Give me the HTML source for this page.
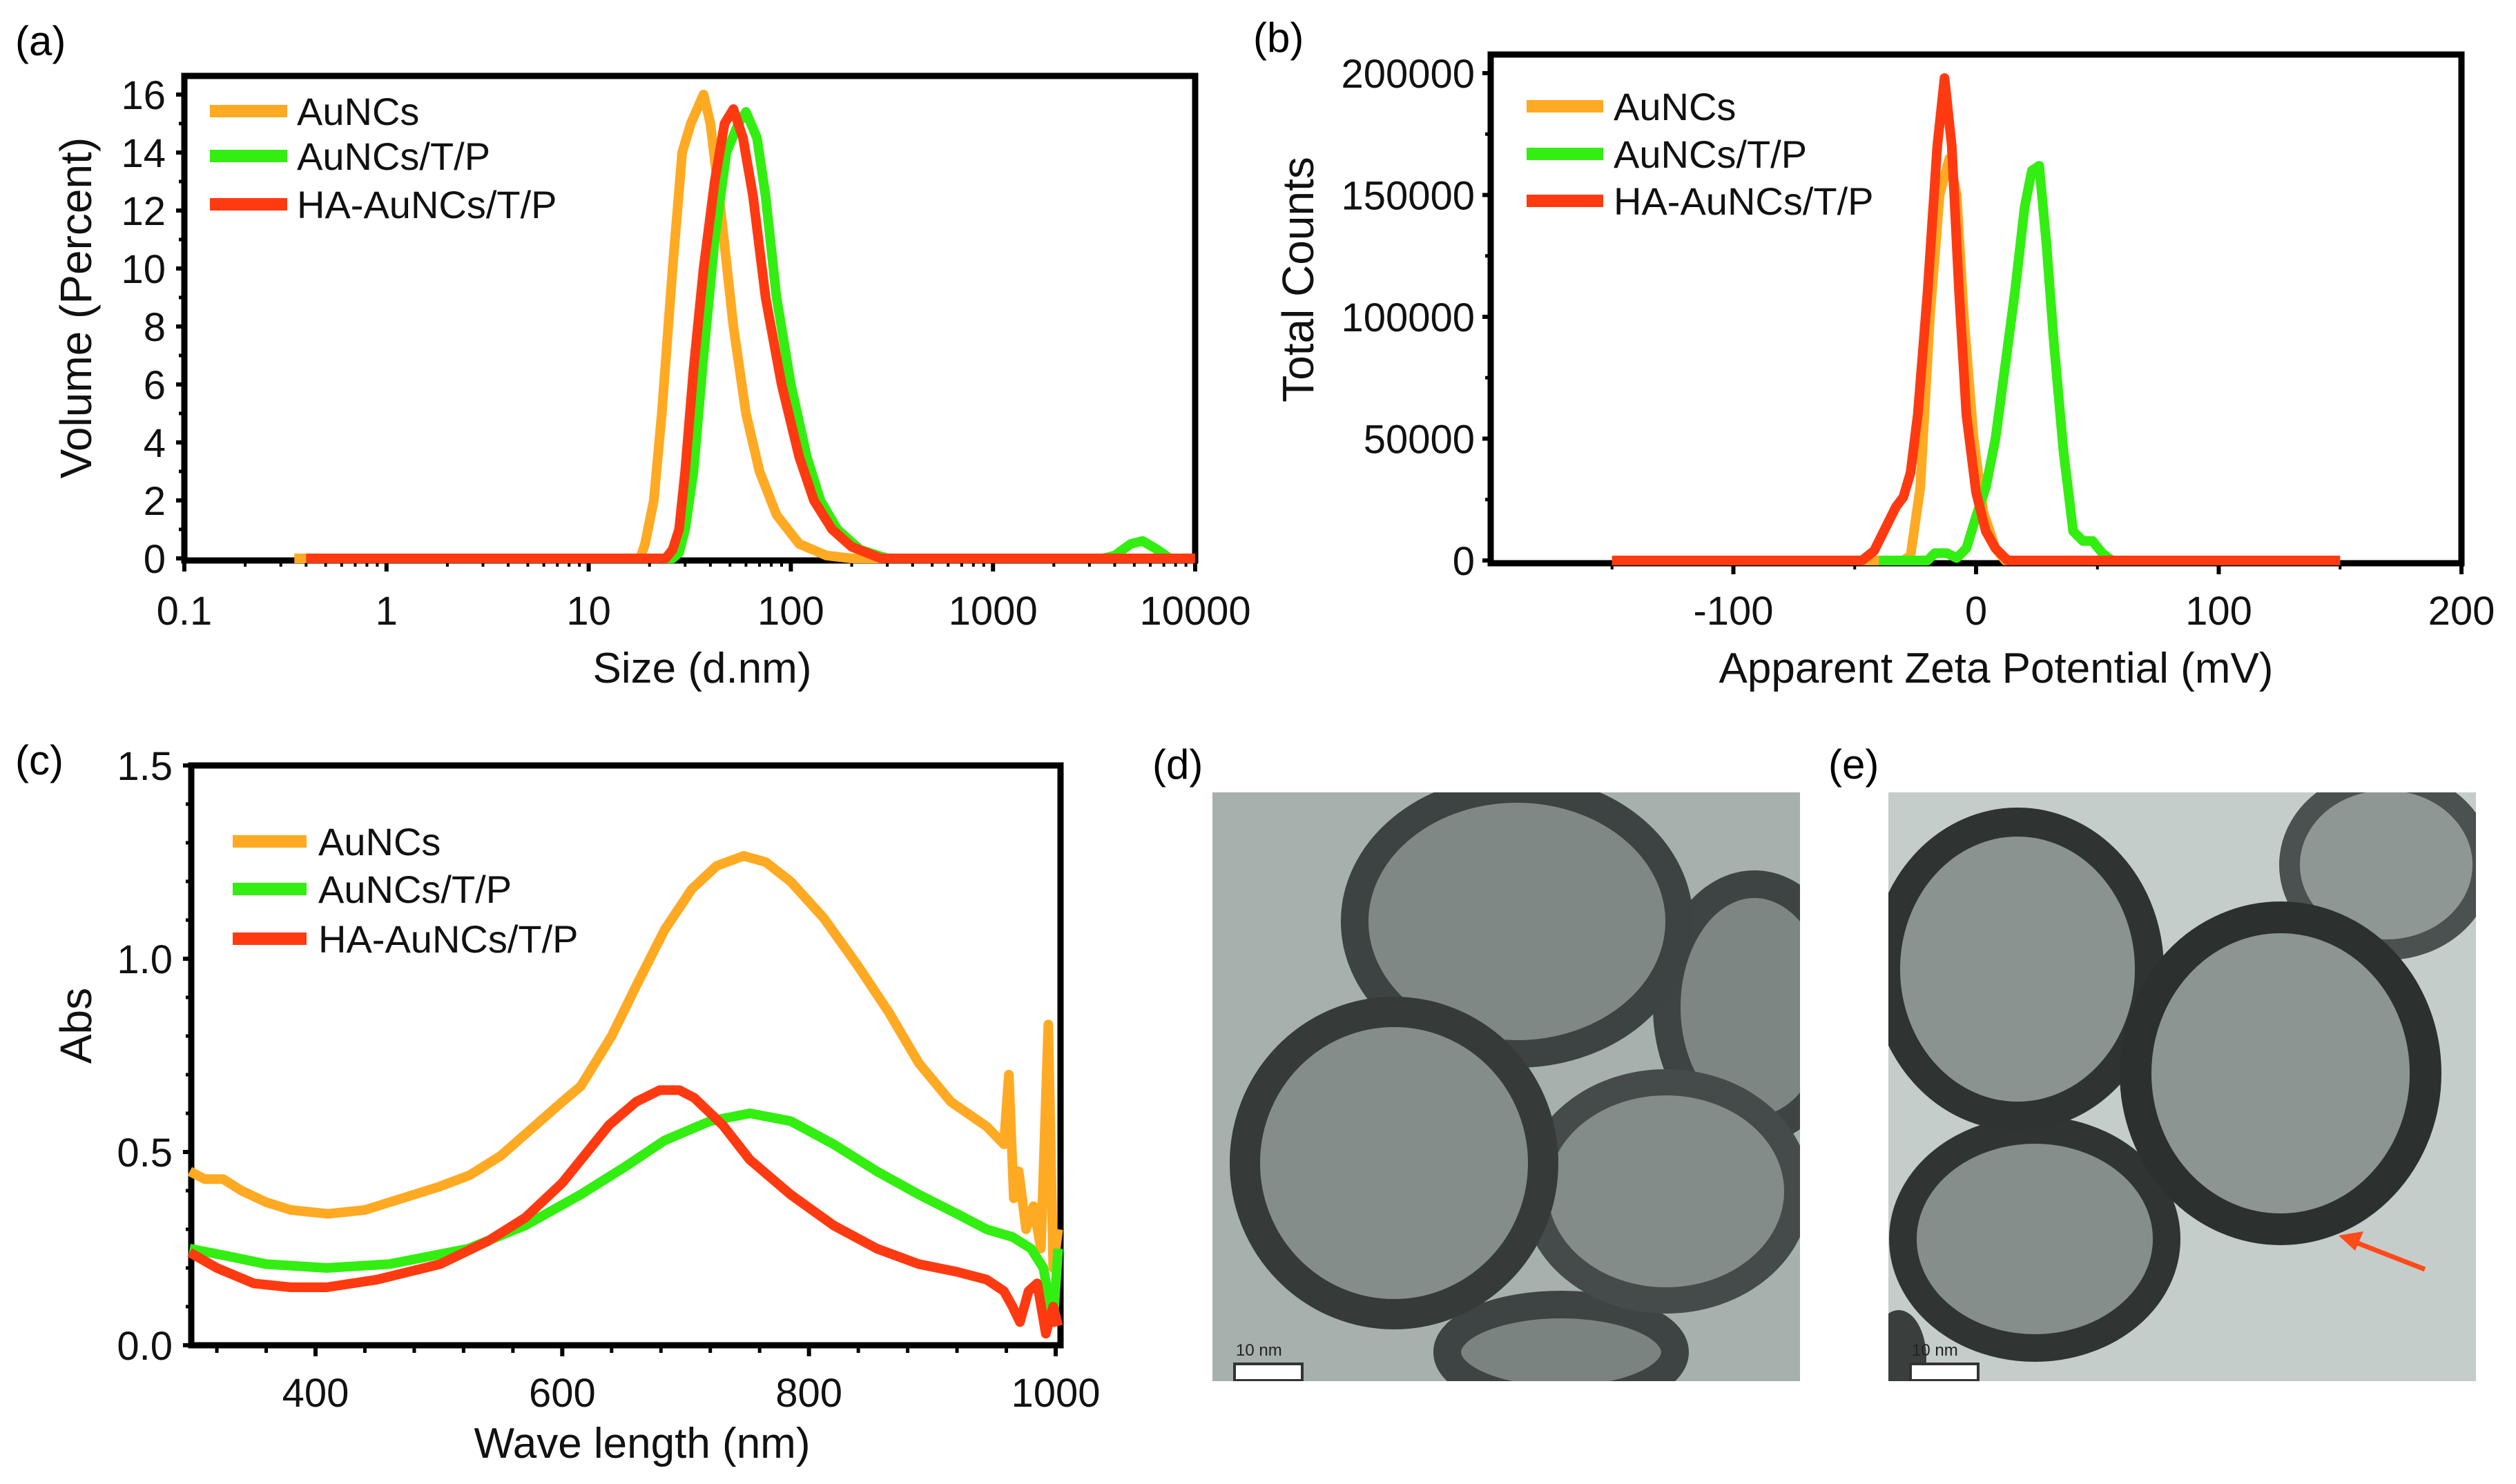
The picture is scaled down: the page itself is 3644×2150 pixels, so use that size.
<!DOCTYPE html>
<html><head><meta charset="utf-8"><style>
html,body{margin:0;padding:0;background:#fff;}
svg{display:block;font-family:"Liberation Sans",Arial,sans-serif;}
</style></head><body>
<svg id="fig" width="3644" height="2150" viewBox="0 0 3644 2150">
<rect x="0" y="0" width="3644" height="2150" fill="#fff"/>
<text x="22" y="80" font-size="60">(a)</text>
<text x="1815" y="75" font-size="60">(b)</text>
<text x="22" y="1122" font-size="60">(c)</text>
<text x="1669" y="1128" font-size="60">(d)</text>
<text x="2648" y="1128" font-size="60">(e)</text>
<g id="pa"></g>
<g id="pb"></g>
<g id="pc"></g>
<g transform="translate(1756,1148)">
<defs><clipPath id="cd"><rect x="0" y="0" width="851" height="853"/></clipPath><clipPath id="ce"><rect x="0" y="0" width="851" height="853"/></clipPath></defs>
<g clip-path="url(#cd)">
<rect x="0" y="0" width="851" height="853" fill="#a6b0ac"/>
<ellipse cx="785" cy="311" rx="127" ry="178" fill="#7d8683" stroke="#3e4443" stroke-width="40"/>
<ellipse cx="505" cy="811" rx="165" ry="69" fill="#7a8380" stroke="#3e4443" stroke-width="40"/>
<ellipse cx="657" cy="578" rx="190" ry="158" fill="#838c88" stroke="#454b4a" stroke-width="38"/>
<ellipse cx="441" cy="187" rx="235" ry="192" fill="#7f8884" stroke="#3d4342" stroke-width="40"/>
<ellipse cx="263" cy="537" rx="216" ry="219" fill="#848d89" stroke="#363b3a" stroke-width="44"/>
<rect x="32" y="828" width="98" height="24" fill="#fff" stroke="#333" stroke-width="4"/>
<text x="34" y="816" font-size="24" fill="#222">10 nm</text>
</g></g>
<g transform="translate(2735,1148)">
<g clip-path="url(#ce)">
<rect x="0" y="0" width="851" height="853" fill="#c5cdca"/>
<ellipse cx="721" cy="105" rx="140" ry="123" fill="#8e9794" stroke="#4a5150" stroke-width="30"/>
<ellipse cx="212" cy="647" rx="191" ry="158" fill="#858e8a" stroke="#303534" stroke-width="40"/>
<ellipse cx="187" cy="256" rx="191" ry="213" fill="#8a938f" stroke="#2f3433" stroke-width="42"/>
<ellipse cx="568" cy="407" rx="210" ry="226" fill="#8c9591" stroke="#2c3130" stroke-width="46"/>
<ellipse cx="15" cy="820" rx="40" ry="70" fill="#3a3f3e"/>
<line x1="777" y1="691" x2="672" y2="650" stroke="#ff4a1a" stroke-width="7"/>
<polygon points="652,642 688,636 676,664" fill="#ff4a1a"/>
<rect x="32" y="828" width="98" height="24" fill="#fff" stroke="#333" stroke-width="4"/>
<text x="34" y="816" font-size="24" fill="#222">10 nm</text>
</g></g>
</svg>
<script>
// ---- Panel (a) data: size distribution by volume ----
const aTicksX = [0.1, 1, 10, 100, 1000, 10000];
const aTickLabelsX = ["0.1", "1", "10", "100", "1000", "10000"];
const aTicksY = [0, 2, 4, 6, 8, 10, 12, 14, 16];
const aOrangeX = [0.35, 18, 19, 21, 23, 26, 29, 32, 37, 40, 45, 52, 60, 70, 85, 110, 150, 200, 10000];
const aOrangeY = [0, 0, 0.5, 2, 5, 10, 14, 15, 16, 15, 12, 8, 5, 3, 1.5, 0.5, 0.1, 0, 0];
const aGreenX = [0.4, 26, 28, 30, 33, 37, 42, 48, 55, 60, 68, 75, 85, 100, 120, 140, 170, 220, 300, 3500, 4000, 4800, 5500, 6500, 7500, 10000];
const aGreenY = [0, 0, 0.2, 1, 3, 7, 11, 14, 15, 15.4, 14.5, 12.5, 9, 6, 3.5, 2, 1, 0.3, 0, 0, 0.1, 0.5, 0.6, 0.3, 0, 0];
const aRedX = [0.4, 24, 26, 28, 30, 33, 37, 42, 47, 52, 58, 65, 75, 90, 110, 130, 160, 200, 280, 10000];
const aRedY = [0, 0, 0.3, 1, 3, 6.5, 10, 13, 15, 15.5, 14.5, 12.5, 9, 6, 3.5, 2, 1, 0.4, 0, 0];
// ---- Panel (b) data: zeta potential ----
const bTicksX = [-100, 0, 100, 200];
const bTicksY = [0, 50000, 100000, 150000, 200000];
const bOrangeX = [-150, -30, -27, -23, -19, -15, -11, -8, -5, -1, 3, 8, 12, 150];
const bOrangeY = [0, 0, 2000, 30000, 100000, 150000, 165000, 150000, 100000, 50000, 20000, 5000, 0, 0];
const bGreenX = [-40, -20, -17, -12, -8, -4, 0, 4, 8, 12, 16, 20, 23, 26, 29, 32, 36, 40, 44, 48, 52, 56];
const bGreenY = [0, 0, 3000, 3000, 1000, 5000, 18000, 30000, 50000, 80000, 110000, 145000, 160000, 162000, 130000, 90000, 45000, 12000, 8000, 8000, 3000, 0];
const bRedX = [-150, -47, -42, -37, -33, -30, -27, -24, -20, -16, -13, -10, -7, -4, 0, 4, 8, 13, 150];
const bRedY = [0, 0, 4000, 14000, 22000, 26000, 36000, 60000, 110000, 170000, 198000, 170000, 110000, 60000, 28000, 12000, 5000, 0, 0];
// ---- Panel (c) data: UV-Vis absorbance ----
const cTicksX = [400, 600, 800, 1000];
const cTicksY = [0, 0.5, 1.0, 1.5];
const cTickLabelsY = ["0.0", "0.5", "1.0", "1.5"];
const cOrangeX = [298, 310, 325, 340, 360, 380, 410, 440, 470, 500, 525, 550, 575, 600, 615, 640, 660, 683, 705, 725, 747, 765, 785, 812, 840, 865, 889, 915, 944, 958, 962, 966, 970, 976, 982, 988, 994, 998, 1002];
const cOrangeY = [0.45, 0.43, 0.43, 0.4, 0.37, 0.35, 0.34, 0.35, 0.38, 0.41, 0.44, 0.49, 0.56, 0.63, 0.67, 0.8, 0.93, 1.075, 1.18, 1.24, 1.266, 1.25, 1.2, 1.105, 0.98, 0.86, 0.73, 0.63, 0.566, 0.52, 0.7, 0.38, 0.45, 0.3, 0.36, 0.25, 0.83, 0.2, 0.3];
const cGreenX = [298, 330, 360, 409, 460, 524, 570, 615, 650, 683, 720, 752, 785, 820, 855, 889, 920, 944, 965, 980, 990, 998, 1002];
const cGreenY = [0.25, 0.23, 0.21, 0.2, 0.21, 0.25, 0.31, 0.39, 0.46, 0.53, 0.58, 0.6, 0.58, 0.52, 0.45, 0.39, 0.34, 0.3, 0.28, 0.25, 0.2, 0.06, 0.25];
const cRedX = [298, 320, 350, 380, 409, 450, 501, 540, 570, 600, 638, 660, 679, 695, 707, 730, 752, 785, 820, 855, 889, 920, 944, 958, 965, 971, 978, 985, 992, 998, 1002];
const cRedY = [0.24, 0.2, 0.16, 0.15, 0.15, 0.17, 0.21, 0.27, 0.33, 0.42, 0.57, 0.63, 0.66, 0.66, 0.64, 0.57, 0.48, 0.39, 0.31, 0.25, 0.21, 0.19, 0.17, 0.14, 0.1, 0.06, 0.14, 0.16, 0.03, 0.1, 0.05];
const seriesNames = ["AuNCs", "AuNCs/T/P", "HA-AuNCs/T/P"];
const colors = ["#ffaa22", "#33ee11", "#ff3a11"];

const NS = "http://www.w3.org/2000/svg";
function mk(parent, tag, attrs) {
  const e = document.createElementNS(NS, tag);
  for (const k in attrs) e.setAttribute(k, attrs[k]);
  parent.appendChild(e);
  return e;
}
function txt(parent, x, y, s, size, anchor, rot) {
  const t = mk(parent, "text", {x: x, y: y, "font-size": size, "text-anchor": anchor || "middle", fill: "#111"});
  if (rot) t.setAttribute("transform", "rotate(-90 " + x + " " + y + ")");
  t.textContent = s;
  return t;
}
function drawSeries(g, xs, ys, sx, sy, color, name) {
  let d = "";
  for (let i = 0; i < xs.length; i++) d += (i ? "L" : "M") + sx(xs[i]).toFixed(1) + " " + sy(ys[i]).toFixed(1);
  const p = mk(g, "path", {d: d, fill: "none", stroke: color, "stroke-width": 14, "stroke-linejoin": "round", "stroke-linecap": "butt"});
  
  
}
function legend(g, x0, x1, tx, ys) {
  for (let i = 0; i < 3; i++) {
    const l = mk(g, "line", {x1: x0, x2: x1, y1: ys[i], y2: ys[i], stroke: colors[i], "stroke-width": 18});
    
    
    const t = txt(g, tx, ys[i] + 20, seriesNames[i], 56, "start");
    
    
  }
}
function frame(g, L, T, R, B) {
  const f = mk(g, "rect", {x: L, y: T, width: R - L, height: B - T, fill: "none", stroke: "#000", "stroke-width": 9});
  
  
}

// Panel a
(function () {
  const g = document.getElementById("pa");
  const L = 267, R = 1731, T = 110, B = 812;
  const sx = v => L + (Math.log10(v) + 1) * (R - L) / 5;
  const sy = v => 809 - v * (809 - 137) / 16;
  frame(g, L, T, R, B);
  aTicksY.forEach(v => {
    mk(g, "line", {x1: L - 12, x2: L, y1: sy(v), y2: sy(v), stroke: "#000", "stroke-width": 6});
    if (v < 16) mk(g, "line", {x1: L - 8, x2: L, y1: sy(v + 1), y2: sy(v + 1), stroke: "#000", "stroke-width": 5});
    const t = txt(g, 240, sy(v) + 21, String(v), 58, "end");
    
    
  });
  aTicksX.forEach((v, i) => {
    mk(g, "line", {x1: sx(v), x2: sx(v), y1: B, y2: B + 16, stroke: "#000", "stroke-width": 6});
    if (i < aTicksX.length - 1) for (let m = 2; m < 10; m++) mk(g, "line", {x1: sx(v * m), x2: sx(v * m), y1: B, y2: B + 9, stroke: "#000", "stroke-width": 4});
    const t = txt(g, sx(v), 905, aTickLabelsX[i], 58);
    
    
  });
  const xt = txt(g, 1017, 989, "Size (d.nm)", 62);
  
  
  const yt = txt(g, 132, 446, "Volume (Percent)", 64, "middle", true);
  
  
  drawSeries(g, aOrangeX, aOrangeY, sx, sy, colors[0], "series-aunc");
  drawSeries(g, aGreenX, aGreenY, sx, sy, colors[1], "series-aunc-tp");
  drawSeries(g, aRedX, aRedY, sx, sy, colors[2], "series-ha-aunc-tp");
  legend(g, 304, 416, 430, [161, 226, 296]);
})();

// Panel b
(function () {
  const g = document.getElementById("pb");
  const L = 2159, R = 3565, T = 79, B = 816;
  const sx = v => L + (v + 200) * (R - L) / 400;
  const sy = v => 812 - v * (812 - 106) / 200000;
  frame(g, L, T, R, B);
  bTicksY.forEach(v => {
    mk(g, "line", {x1: L - 12, x2: L, y1: sy(v), y2: sy(v), stroke: "#000", "stroke-width": 6});
    if (v < 200000) mk(g, "line", {x1: L - 8, x2: L, y1: sy(v + 25000), y2: sy(v + 25000), stroke: "#000", "stroke-width": 5});
    const t = txt(g, 2136, sy(v) + 21, String(v), 58, "end");
    
    
  });
  bTicksX.forEach(v => {
    mk(g, "line", {x1: sx(v), x2: sx(v), y1: B, y2: B + 16, stroke: "#000", "stroke-width": 6});
    mk(g, "line", {x1: sx(v - 50), x2: sx(v - 50), y1: B, y2: B + 9, stroke: "#000", "stroke-width": 4});
    const t = txt(g, sx(v), 905, String(v), 58);
    
    
  });
  const xt = txt(g, 2891, 989, "Apparent Zeta Potential (mV)", 62);
  
  
  const yt = txt(g, 1902, 405, "Total Counts", 64, "middle", true);
  
  
  drawSeries(g, bOrangeX, bOrangeY, sx, sy, colors[0], "series-aunc");
  drawSeries(g, bGreenX, bGreenY, sx, sy, colors[1], "series-aunc-tp");
  drawSeries(g, bRedX, bRedY, sx, sy, colors[2], "series-ha-aunc-tp");
  legend(g, 2211, 2322, 2337, [154, 223, 291]);
})();

// Panel c
(function () {
  const g = document.getElementById("pc");
  const L = 277, R = 1536, T = 1109, B = 1949;
  const sx = v => 457 + (v - 400) * (1529 - 457) / 600;
  const sy = v => B - v * (B - T) / 1.5;
  frame(g, L, T, R, B);
  for (let k = 0; k <= 15; k++) {
    const v = k / 10;
    mk(g, "line", {x1: L - (k % 5 ? 8 : 12), x2: L, y1: sy(v), y2: sy(v), stroke: "#000", "stroke-width": k % 5 ? 5 : 6});
  }
  cTicksY.forEach((v, i) => {
    const t = txt(g, 250, sy(v) + 21, cTickLabelsY[i], 58, "end");
    
    
  });
  for (let v = 320; v <= 1000; v += 40) {
    const major = v % 200 === 0;
    mk(g, "line", {x1: sx(v), x2: sx(v), y1: B, y2: B + (major ? 16 : 11), stroke: "#000", "stroke-width": major ? 6 : 5});
  }
  cTicksX.forEach(v => {
    const t = txt(g, sx(v), 2038, String(v), 58);
    
    
  });
  const xt = txt(g, 930, 2112, "Wave length (nm)", 62);
  
  
  const yt = txt(g, 132, 1486, "Abs", 64, "middle", true);
  
  
  drawSeries(g, cOrangeX, cOrangeY, sx, sy, colors[0], "series-aunc");
  drawSeries(g, cGreenX, cGreenY, sx, sy, colors[1], "series-aunc-tp");
  drawSeries(g, cRedX, cRedY, sx, sy, colors[2], "series-ha-aunc-tp");
  legend(g, 337, 444, 461, [1219, 1288, 1360]);
})();
</script>
</body></html>
